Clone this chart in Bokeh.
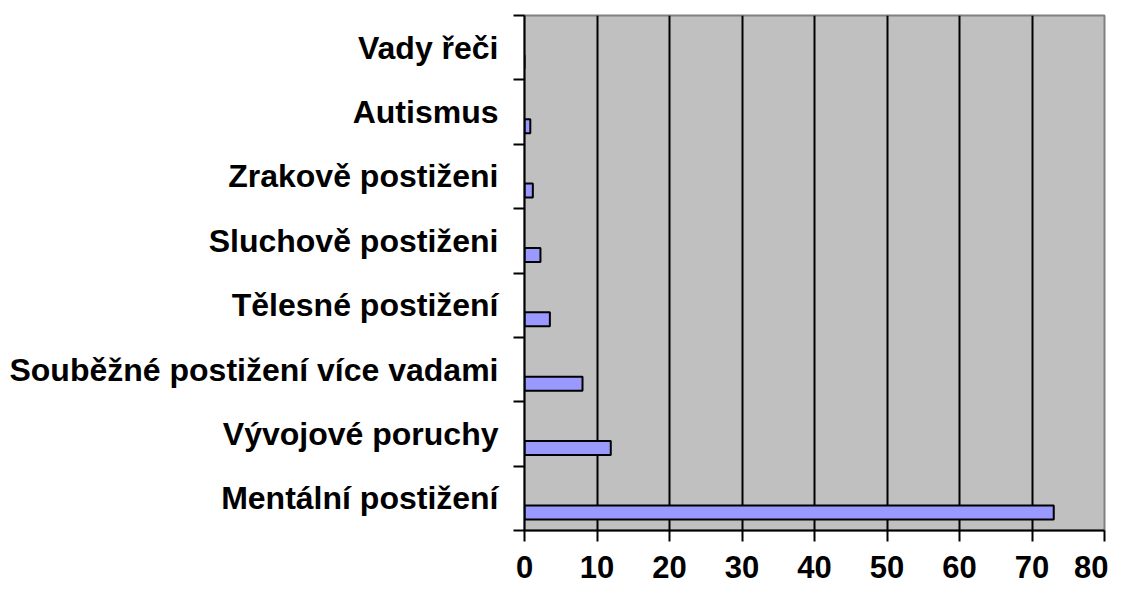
from bokeh.plotting import figure
from bokeh.models import FixedTicker, Range1d, ColumnDataSource
from bokeh.embed import file_html
from bokeh.resources import INLINE

# Data (bottom to top)
categories = ["Mentální postižení", "Vývojové poruchy", "Souběžné postižení více vadami",
              "Tělesné postižení", "Sluchově postiženi", "Zrakově postiženi",
              "Autismus", "Vady řeči"]
values = [73.0, 11.9, 8.0, 3.5, 2.2, 1.15, 0.8, 0.0]
x_ticks = [0, 10, 20, 30, 40, 50, 60, 70, 80]

n = len(categories)
centers = [i + 0.5 for i in range(n)]
bar_y = [c - 0.22 for c in centers]

src = ColumnDataSource(dict(y=bar_y, v=values))

p = figure(width=1108, height=589, output_backend="svg", toolbar_location=None,
           x_range=Range1d(0, 80), y_range=Range1d(0, n),
           min_border_left=524, min_border_top=15, min_border_right=4, min_border_bottom=59)

p.background_fill_color = "#C0C0C0"
p.border_fill_color = "white"
p.outline_line_color = "#808080"
p.outline_line_width = 2

p.hbar(y="y", right="v", left=0, height=0.218, source=src,
       fill_color="#9999FF", line_color="black", line_width=2)

# x axis
xa = p.xaxis[0]
xa.ticker = FixedTicker(ticks=x_ticks)
xa.axis_line_color = "black"
xa.axis_line_width = 2
xa.major_tick_line_width = 2
xa.major_tick_in = 0
xa.major_tick_out = 11
xa.minor_tick_line_color = None
xa.major_label_text_font = "Liberation Sans"
xa.major_label_text_font_style = "bold"
xa.major_label_text_font_size = "31px"
xa.major_label_text_color = "black"
xa.major_label_standoff = 14

# y axis
ya = p.yaxis[0]
ya.ticker = FixedTicker(ticks=centers, minor_ticks=list(range(n + 1)))
ya.major_label_overrides = {c: name for c, name in zip(centers, categories)}
ya.axis_line_color = "black"
ya.axis_line_width = 2
ya.major_tick_line_color = None
ya.major_tick_in = 0
ya.major_tick_out = 11
ya.minor_tick_line_color = "black"
ya.minor_tick_line_width = 2
ya.minor_tick_in = 0
ya.minor_tick_out = 11
ya.major_label_text_font = "Liberation Sans"
ya.major_label_text_font_style = "bold"
ya.major_label_text_font_size = "32px"
ya.major_label_text_color = "black"
ya.major_label_standoff = 15

p.xgrid.ticker = FixedTicker(ticks=x_ticks)
p.xgrid.grid_line_color = "black"
p.xgrid.grid_line_width = 2
p.ygrid.grid_line_color = None

open("out.html", "w").write(file_html(p, INLINE))
